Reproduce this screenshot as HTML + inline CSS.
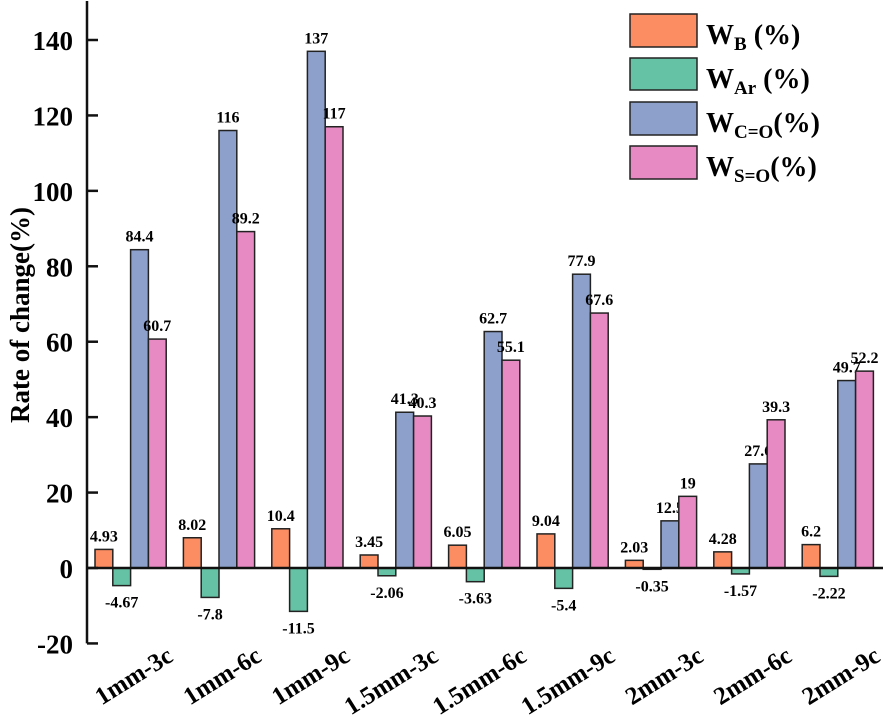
<!DOCTYPE html>
<html><head><meta charset="utf-8"><style>
body{margin:0;background:#fff}
svg{display:block;font-family:"Liberation Serif",serif;font-weight:bold}
</style></head><body>
<svg id="chart" width="886" height="721">
<g id="bars"></g>
<g id="axes"></g>
<g id="legend">
 <rect x="630" y="14" width="67" height="33" fill="#fc8d62" stroke="#222" stroke-width="1.5"/>
 <text x="706" y="44" font-size="28">W<tspan font-size="19" dy="6">B</tspan><tspan dy="-6"> (%)</tspan></text>
 <rect x="630" y="58" width="67" height="32" fill="#66c2a5" stroke="#222" stroke-width="1.5"/>
 <text x="706" y="88" font-size="28">W<tspan font-size="19" dy="6">Ar</tspan><tspan dy="-6"> (%)</tspan></text>
 <rect x="630" y="102" width="67" height="33" fill="#8da0cb" stroke="#222" stroke-width="1.5"/>
 <text x="706" y="132" font-size="28">W<tspan font-size="19" dy="6">C=O</tspan><tspan dy="-6">(%)</tspan></text>
 <rect x="630" y="146" width="67" height="33" fill="#e78ac3" stroke="#222" stroke-width="1.5"/>
 <text x="706" y="176" font-size="28">W<tspan font-size="19" dy="6">S=O</tspan><tspan dy="-6">(%)</tspan></text>
</g>
<text transform="translate(29,315) rotate(-90)" text-anchor="middle" font-size="27">Rate of change(%)</text>
</svg>
<script>
const categories=["1mm-3c","1mm-6c","1mm-9c","1.5mm-3c","1.5mm-6c","1.5mm-9c","2mm-3c","2mm-6c","2mm-9c"];
const wB=[4.93,8.02,10.4,3.45,6.05,9.04,2.03,4.28,6.2];
const wAr=[-4.67,-7.8,-11.5,-2.06,-3.63,-5.4,-0.35,-1.57,-2.22];
const wCO=[84.4,116,137,41.3,62.7,77.9,12.5,27.6,49.7];
const wSO=[60.7,89.2,117,40.3,55.1,67.6,19,39.3,52.2];
const yTicks=[-20,0,20,40,60,80,100,120,140];
const seriesNames=["wb","war","wco","wso"];
const colors=["#fc8d62","#66c2a5","#8da0cb","#e78ac3"];
const series=[wB,wAr,wCO,wSO];
const labels=[["4.93","8.02","10.4","3.45","6.05","9.04","2.03","4.28","6.2"],
["-4.67","-7.8","-11.5","-2.06","-3.63","-5.4","-0.35","-1.57","-2.22"],
["84.4","116","137","41.3","62.7","77.9","12.5","27.6","49.7"],
["60.7","89.2","117","40.3","55.1","67.6","19","39.3","52.2"]];
const NS="http://www.w3.org/2000/svg";
const y=v=>568-v*528/140;
const step=88.4,bw=17.8;
const gx=i=>95+i*step;
function mk(t,a,p){const e=document.createElementNS(NS,t);for(const k in a)e.setAttribute(k,a[k]);p.appendChild(e);return e;}
const bars=document.getElementById('bars'),axes=document.getElementById('axes');
series.forEach((s,si)=>{s.forEach((v,i)=>{
 const x=gx(i)+si*bw;
 const r=mk('rect',{x:x,y:Math.min(y(v),y(0)),width:bw,height:Math.abs(y(v)-y(0)),fill:colors[si],stroke:'#222','stroke-width':1.5},bars);
 
 
 const t=mk('text',{x:x+bw/2,y:v>=0?y(v)-8:y(v)+22,'text-anchor':'middle','font-size':16},bars);
 t.textContent=labels[si][i];
 
 
});});
const ya=mk('line',{x1:87,y1:1,x2:87,y2:y(-20),stroke:'#111','stroke-width':2.5},axes);


const za=mk('line',{x1:87,y1:y(0),x2:883,y2:y(0),stroke:'#111','stroke-width':2.5},axes);


yTicks.forEach(v=>{
 const tk=mk('line',{x1:87,y1:y(v),x2:98,y2:y(v),stroke:'#111','stroke-width':2.5},axes);
 
 
 const t=mk('text',{x:73,y:y(v)+10,'text-anchor':'end','font-size':27},axes);
 t.textContent=v;
 
 
});
categories.forEach((c,i)=>{
 const cx=gx(i)+2*bw+44, cy=660;
 const t=mk('text',{x:cx,y:cy,'text-anchor':'end','font-size':25,transform:`rotate(-32 ${cx} ${cy})`},axes);
 t.textContent=c;
 
 
});
</script>
</body></html>
